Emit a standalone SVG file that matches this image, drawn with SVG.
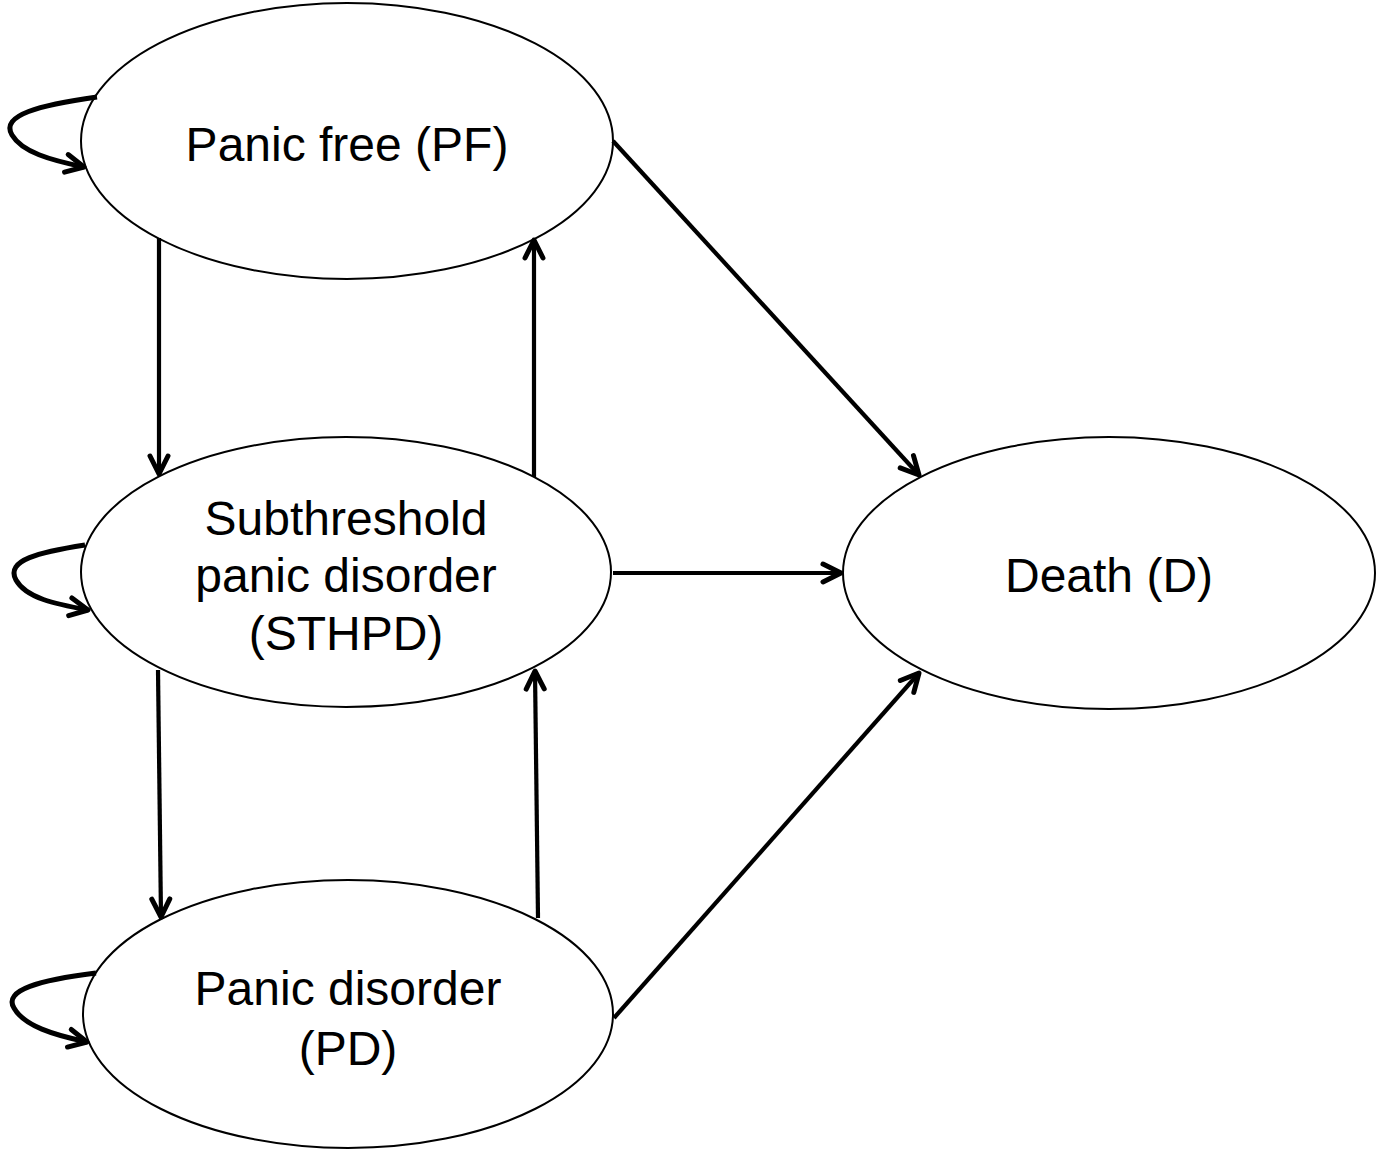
<svg xmlns="http://www.w3.org/2000/svg" width="1382" height="1151" viewBox="0 0 1382 1151">
<style>
.node ellipse{fill:#fff;stroke:#000;stroke-width:2}
.node text{font-family:"Liberation Sans",Arial,sans-serif;font-size:48px;fill:#000;text-anchor:middle}
.edge{fill:none;stroke:#000;stroke-width:4.2;marker-end:url(#ah)}
.loop{stroke-width:5}
</style>
<defs>
<marker id="ah" markerUnits="userSpaceOnUse" viewBox="-22 -12 26 24" refX="0" refY="0" markerWidth="26" markerHeight="24" orient="auto" overflow="visible">
<path d="M-18,-9 L0,0 L-18,9" fill="none" stroke="#000" stroke-width="5" stroke-linecap="round" stroke-linejoin="round"/>
</marker>
</defs>
<rect width="1382" height="1151" fill="#fff"/>
<g id="pf" class="node"><ellipse cx="347" cy="141" rx="266" ry="138"/><text x="347" y="161">Panic free (PF)</text></g>
<g id="sthpd" class="node"><ellipse cx="346" cy="572" rx="265" ry="135"/><text x="346" y="535">Subthreshold</text><text x="346" y="592">panic disorder</text><text x="346" y="650">(STHPD)</text></g>
<g id="pd" class="node"><ellipse cx="348" cy="1014" rx="265" ry="134"/><text x="348" y="1005">Panic disorder</text><text x="348" y="1065">(PD)</text></g>
<g id="death" class="node"><ellipse cx="1109" cy="573" rx="266" ry="136"/><text x="1109" y="592">Death (D)</text></g>
<g id="connectors">
<path class="edge" d="M159,238 L159,474"/>
<path class="edge" d="M534,477 L534,240"/>
<path class="edge" d="M158,670 L161,917"/>
<path class="edge" d="M538,918 L535,671"/>
<path class="edge" d="M613,141 L919,475"/>
<path class="edge" d="M613,573 L841,573"/>
<path class="edge" d="M614,1018 L919,673"/>
<path class="edge loop" d="M97,97 C40,105 0,115 12,135 C22,152 50,160 84,167"/>
<path class="edge loop" d="M85,545 C40,552 5,560 16,580 C26,598 55,604 88,610"/>
<path class="edge loop" d="M96,973 C40,980 3,990 14,1008 C24,1026 54,1035 87,1042"/>
</g>
</svg>
